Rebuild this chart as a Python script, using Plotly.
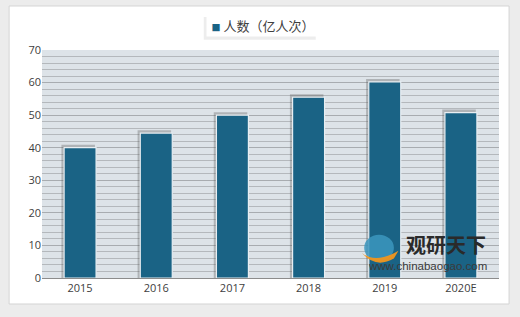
import plotly.graph_objects as go

years = ["2015", "2016", "2017", "2018", "2019", "2020E"]
values = [40.0, 44.5, 50.0, 55.5, 60.2, 50.8]
series_name = "人数（亿人次）"

shadow_vals = [v + 0.9 for v in values]

fig = go.Figure()
fig.add_trace(go.Bar(
    x=years, y=shadow_vals, name="shadow",
    marker=dict(color="rgba(90,90,90,0.35)", line=dict(width=0)),
    width=0.44, offset=-0.245, showlegend=False, hoverinfo="skip",
))
fig.add_trace(go.Bar(
    x=years, y=values, name=series_name,
    marker=dict(color="#1a6385", line=dict(color="#e8eef2", width=1.2)),
    width=0.42, offset=-0.21,
    showlegend=False,
))

fig.update_layout(
    width=520, height=317,
    margin=dict(l=42, r=21, t=50, b=39, autoexpand=False),
    paper_bgcolor="#ececec",
    plot_bgcolor="#dde3e8",
    barmode="overlay",
    font=dict(family="Noto Sans CJK SC, sans-serif", size=11, color="#404040"),
    showlegend=False,
    xaxis=dict(showgrid=False, linecolor="#8c8c8c", linewidth=1.2, showline=True,
               ticks="", tickfont=dict(family="Open Sans, sans-serif", size=11, color="#404040")),
    yaxis=dict(range=[0, 70], dtick=10, showgrid=True, gridcolor="#a8acb0", gridwidth=1,
               zeroline=False, showline=False, ticks="",
               tickfont=dict(family="Open Sans, sans-serif", size=11, color="#404040"),
               minor=dict(dtick=2, showgrid=True, gridcolor="#b4b8bc", gridwidth=1)),
    shapes=[
        dict(type="rect", xref="paper", yref="paper", x0=-0.072, x1=1.022, y0=-0.114, y1=1.193,
             fillcolor="#ffffff", line=dict(color="#d4d4d4", width=1), layer="below"),
        dict(type="rect", xref="paper", yref="paper", x0=0, x1=1, y0=0, y1=1,
             fillcolor="#dde3e8", line=dict(width=0), layer="below"),
        dict(type="rect", xref="paper", yref="paper", x0=0.354, x1=0.599, y0=1.045, y1=1.145,
             fillcolor="rgba(0,0,0,0.07)", line=dict(width=0), layer="below"),
        dict(type="circle", xref="paper", yref="paper", x0=0.705, x1=0.77, y0=0.075, y1=0.19,
             fillcolor="rgba(60,150,190,0.85)", line=dict(width=0), layer="above"),
        dict(type="path", xref="paper", yref="paper",
             path="M 0.70 0.11 Q 0.73 0.06 0.78 0.12 L 0.77 0.085 Q 0.73 0.04 0.70 0.11 Z",
             fillcolor="rgba(240,150,30,0.95)", line=dict(width=0), layer="above"),
    ],
    annotations=[
        dict(text="<span style='color:#1a6385;font-size:9px'>■</span> " + series_name,
             xref="paper", yref="paper",
             x=0.483, y=1.11, showarrow=False, xanchor="center", yanchor="middle",
             width=112, height=22, bgcolor="#ffffff", borderpad=0,
             font=dict(size=13, color="#404040", family="Noto Sans CJK SC")),
        dict(text="<b>观研天下</b>", xref="paper", yref="paper", x=0.884, y=0.145, showarrow=False,
             font=dict(size=20, color="#2a2a2a", family="Noto Sans CJK SC"), xanchor="center", yanchor="middle"),
        dict(text="www.chinabaogao.com", xref="paper", yref="paper", x=0.843, y=0.053, showarrow=False,
             font=dict(size=11.5, color="#3a3a3a", family="Liberation Sans"), xanchor="center", yanchor="middle"),
    ],
)

fig.write_html("out.html")
